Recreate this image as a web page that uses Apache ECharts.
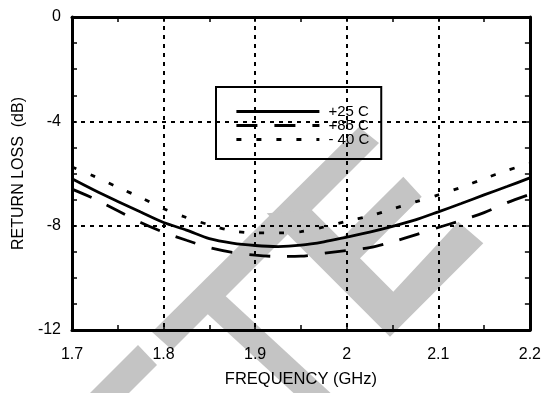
<!DOCTYPE html>
<html><head><meta charset="utf-8">
<script src="https://cdn.jsdelivr.net/npm/echarts@6/dist/echarts.min.js"></script>
<style>html,body{margin:0;padding:0;background:#fff}#c{width:544px;height:393px}</style>
</head><body><div id="c"></div>
<script>
// Frequency (GHz)
const freq = [1.7,1.725,1.75,1.775,1.8,1.825,1.85,1.875,1.9,1.925,1.95,1.975,2.0,2.025,2.05,2.075,2.1,2.125,2.15,2.175,2.2];
// Return loss (dB)
const rl25  = [-6.2,-6.65,-7.07,-7.48,-7.88,-8.17,-8.5,-8.67,-8.76,-8.8,-8.75,-8.62,-8.44,-8.25,-8.03,-7.78,-7.47,-7.15,-6.82,-6.5,-6.17];
const rl85  = [-6.6,-6.98,-7.43,-7.88,-8.25,-8.56,-8.84,-9.02,-9.13,-9.18,-9.17,-9.06,-8.95,-8.84,-8.62,-8.35,-8.07,-7.8,-7.5,-7.12,-6.8];
const rlm40 = [-5.75,-6.12,-6.53,-6.92,-7.35,-7.69,-7.97,-8.2,-8.28,-8.28,-8.23,-8.05,-7.83,-7.63,-7.36,-7.09,-6.82,-6.53,-6.2,-5.88,-5.62];
const seriesNames = ['+25 C', '+85 C', '- 40 C'];
const xName = 'FREQUENCY (GHz)';
const yName = 'RETURN LOSS  (dB)';

const FONT = '"Liberation Sans", Arial, Helvetica, sans-serif';
const pairs = ys => freq.map((f, i) => [f, ys[i]]);
const WM = '#c4c4c4';

const chart = echarts.init(document.getElementById('c'), null, {renderer: 'canvas'});

const gridDash = {color: '#000', width: 2, type: [4, 5]};
const baseX = {
  type: 'value', min: 1.7, max: 2.2, interval: 0.1,
  axisLine: {show: true, onZero: false, lineStyle: {color: '#000', width: 3}},
  axisTick: {show: true, inside: true, length: 5, lineStyle: {color: '#000', width: 1.5}},
  minorTick: {show: true, splitNumber: 2, length: 5, lineStyle: {color: '#000', width: 1.5}},
};
const baseY = {
  type: 'value', min: -12, max: 0, interval: 4,
  axisLine: {show: true, onZero: false, lineStyle: {color: '#000', width: 3}},
  axisTick: {show: true, inside: true, length: 5, lineStyle: {color: '#000', width: 1.5}},
  minorTick: {show: true, splitNumber: 4, length: 5, lineStyle: {color: '#000', width: 1.5}},
};

const option = {
  backgroundColor: '#fff',
  animation: false,
  textStyle: {fontFamily: FONT},
  grid: {left: 72, right: 12, top: 17, bottom: 62, containLabel: false},
  graphic: {elements: [
    {type: 'polygon', z: -10, silent: true, shape: {points: [[152,332],[359,127],[379,143],[172,350]]}, style: {fill: WM}},
    {type: 'polygon', z: -10, silent: true, shape: {points: [[80,403],[138,345],[157,365],[119,403]]}, style: {fill: WM}},
    {type: 'polygon', z: -10, silent: true, shape: {points: [[201,308],[219,290],[349,410],[312,410]]}, style: {fill: WM}},
    {type: 'polygon', z: -10, silent: true, shape: {points: [[266.7,213.3],[390,336.7],[483.3,243.3],[458.3,221.7],[393.3,291.7],[360,258.3],[421.7,196.7],[403.3,176.7],[340.8,239.1],[311.8,210.1]]}, style: {fill: WM}}
  ]},
  legend: {
    show: true, orient: 'vertical', left: 216, top: 87,
    padding: [17, 12, 12, 19],
    borderColor: '#000', borderWidth: 2, borderRadius: 0,
    itemWidth: 83, itemHeight: 13, itemGap: -1,
    data: seriesNames,
    itemStyle: {opacity: 0},
    lineStyle: {width: 2.8},
    textStyle: {fontFamily: FONT, fontSize: 15, color: '#000', padding: [0, 0, 0, 4]},
    selectedMode: false
  },
  xAxis: [
    Object.assign({}, baseX, {
      position: 'bottom',
      name: xName, nameLocation: 'middle', nameGap: 41,
      nameTextStyle: {fontFamily: FONT, fontSize: 16.5, color: '#000'},
      axisLabel: {show: true, margin: 17, fontFamily: FONT, fontSize: 16, color: '#000',
        formatter: v => String(+v.toFixed(2))},
      splitLine: {show: true, lineStyle: gridDash}
    }),
    Object.assign({}, baseX, {
      position: 'top', axisLabel: {show: false}, splitLine: {show: false}
    })
  ],
  yAxis: [
    Object.assign({}, baseY, {
      position: 'left',
      name: yName, nameLocation: 'middle', nameGap: 42, nameRotate: 90,
      nameTextStyle: {fontFamily: FONT, fontSize: 16, color: '#000'},
      axisLabel: {show: true, margin: 11, fontFamily: FONT, fontSize: 16, color: '#000',
        formatter: v => String(Math.round(v))},
      splitLine: {show: true, lineStyle: gridDash}
    }),
    Object.assign({}, baseY, {
      position: 'right', axisLabel: {show: false}, splitLine: {show: false}
    })
  ],
  series: [
    {name: seriesNames[0], type: 'line', xAxisIndex: 0, yAxisIndex: 0, data: pairs(rl25),
      symbol: 'none', smooth: 0.3, z: 5, color: '#000',
      lineStyle: {color: '#000', width: 2.8, type: 'solid'}},
    {name: seriesNames[1], type: 'line', xAxisIndex: 0, yAxisIndex: 0, data: pairs(rl85),
      symbol: 'none', smooth: 0.3, z: 5, color: '#000',
      lineStyle: {color: '#000', width: 2.8, type: [21, 17]}},
    {name: seriesNames[2], type: 'line', xAxisIndex: 0, yAxisIndex: 0, data: pairs(rlm40),
      symbol: 'none', smooth: 0.3, z: 5, color: '#000',
      lineStyle: {color: '#000', width: 2.8, type: [5, 15]}}
  ]
};
chart.setOption(option);
</script>
</body></html>
